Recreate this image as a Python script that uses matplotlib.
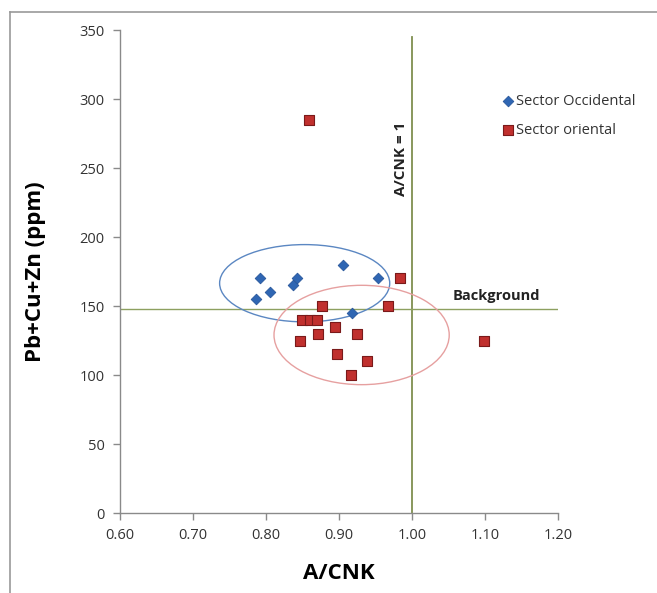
import matplotlib
matplotlib.use("Agg")
import matplotlib.pyplot as plt
from matplotlib.patches import Ellipse
from matplotlib.lines import Line2D

plt.rcParams['font.family'] = ['Open Sans', 'DejaVu Sans']

# Sector Occidental samples
occ_x = [0.792, 0.787, 0.805, 0.837, 0.843, 0.906, 0.953, 0.918]
occ_y = [170, 155, 160, 165, 170, 180, 170, 145]

# Sector oriental samples
ori_x = [0.859, 0.984, 0.877, 0.967, 0.850, 0.860, 0.870, 0.895, 0.925,
         0.871, 0.847, 0.897, 0.938, 0.916, 1.098]
ori_y = [285, 170, 150, 150, 140, 140, 140, 135, 130,
         130, 125, 115, 110, 100, 125]

x_ticks = [0.60, 0.70, 0.80, 0.90, 1.00, 1.10, 1.20]
y_ticks = [0, 50, 100, 150, 200, 250, 300, 350]
acnk_ref = 1.0
background = 148

fig = plt.figure(figsize=(6.57, 5.93), dpi=100)
ax = fig.add_axes([0.1826, 0.1349, 0.6667, 0.8145])

ax.set_xlim(0.60, 1.20)
ax.set_ylim(0, 350)
ax.set_xticks(x_ticks)
ax.set_xticklabels([f"{v:.2f}" for v in x_ticks])
ax.set_yticks(y_ticks)

for s in ['top', 'right']:
    ax.spines[s].set_visible(False)
for s in ['left', 'bottom']:
    ax.spines[s].set_color('#8a8a8a')
    ax.spines[s].set_linewidth(1.0)
ax.tick_params(direction='out', length=5, width=1, color='#8a8a8a',
               labelsize=10.5, labelcolor='#333333', pad=6)

# Reference lines
ax.plot([acnk_ref, acnk_ref], [0, 345], color='#7f8f4f', lw=1.3, zorder=1)
ax.plot([0.60, 1.20], [background, background], color='#8da060', lw=1.0, zorder=1)

# Grouping ellipses
ax.add_patch(Ellipse((0.853, 166.5), 0.233, 56, fill=False,
                     edgecolor='#5b87c2', lw=1.0, zorder=2))
ax.add_patch(Ellipse((0.931, 129), 0.240, 72, fill=False,
                     edgecolor='#e6a0a0', lw=1.0, zorder=2))

ax.scatter(occ_x, occ_y, marker='D', s=30, color='#2f66b3',
           edgecolors='#1f4f95', linewidths=0.5, zorder=3,
           label='Sector Occidental')
ax.scatter(ori_x, ori_y, marker='s', s=55, color='#c0302e',
           edgecolors='#7a1a1a', linewidths=0.8, zorder=4,
           label='Sector oriental')

ax.text(0.985, 257, 'A/CNK = 1', rotation=90, ha='center', va='center',
        fontsize=11, fontweight='bold', color='#222222')
ax.text(1.116, 152, 'Background', ha='center', va='bottom',
        fontsize=10.5, fontweight='bold', color='#222222')

ax.set_xlabel('A/CNK', fontsize=16, fontweight='bold', labelpad=14)
ax.set_ylabel('Pb+Cu+Zn (ppm)', fontsize=16, fontweight='bold', labelpad=24)

leg = ax.legend(loc='upper left', bbox_to_anchor=(0.865, 0.868), frameon=False,
                fontsize=10.5, handletextpad=0.0, labelspacing=0.95,
                markerscale=1.0, borderaxespad=0, borderpad=0,
                handlelength=1.2)
for t in leg.get_texts():
    t.set_color('#333333')

# Outer frame
fig.add_artist(Line2D([0.0152, 0.0152], [0.0, 0.98], transform=fig.transFigure,
                      color='#999999', lw=1.2))
fig.add_artist(Line2D([0.0152, 1.0], [0.98, 0.98], transform=fig.transFigure,
                      color='#999999', lw=1.2))

fig.savefig('out.png', dpi=100)
